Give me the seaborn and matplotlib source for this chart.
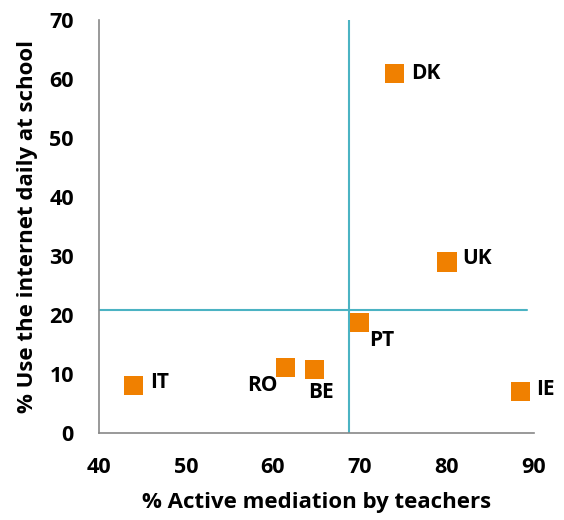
import matplotlib
matplotlib.use("Agg")
import matplotlib.pyplot as plt
import seaborn as sns
import pandas as pd

countries = ["DK", "UK", "PT", "IE", "IT", "RO", "BE"]
active_mediation = [74.0, 80.0, 69.9, 88.4, 44.0, 61.4, 64.8]
daily_school = [61.0, 29.0, 18.8, 7.0, 8.0, 11.1, 10.8]
mean_x = 68.7
mean_y = 20.8
x_ticks = [40, 50, 60, 70, 80, 90]
y_ticks = [0, 10, 20, 30, 40, 50, 60, 70]

# label offsets (pixels) relative to marker centre
label_offsets = {"DK": (16, 0, "left"), "UK": (15, 3, "left"), "PT": (10, -18, "left"),
                 "IE": (16, 2, "left"), "IT": (16, 3, "left"), "RO": (-8, -18, "right"),
                 "BE": (-7, -23, "left")}

df = pd.DataFrame({"country": countries, "x": active_mediation, "y": daily_school})

sns.set_style("white")
plt.rcParams["font.family"] = ["Open Sans", "DejaVu Sans"]
plt.rcParams["font.weight"] = "bold"
plt.rcParams["text.color"] = "black"
plt.rcParams["axes.labelcolor"] = "black"
plt.rcParams["xtick.labelcolor"] = "black"
plt.rcParams["ytick.labelcolor"] = "black"

fig = plt.figure(figsize=(5.64, 5.2), dpi=100)
ax = fig.add_axes([0.1755, 0.1673, 0.7713, 0.794])

teal = "#4BB3C3"
ax.plot([mean_x, mean_x], [0, 70], color=teal, lw=1.5, zorder=1)
ax.plot([40, 89.2], [mean_y, mean_y], color=teal, lw=1.5, zorder=1)

sns.scatterplot(data=df, x="x", y="y", marker="s", s=190, color="#F08000",
                edgecolor="none", ax=ax, zorder=3, legend=False)

for c, xv, yv in zip(countries, active_mediation, daily_school):
    dx, dy, ha = label_offsets[c]
    ax.annotate(c, (xv, yv), xytext=(dx, dy), textcoords="offset pixels",
                ha=ha, va="center", fontsize=15, fontweight="bold", color="black")

ax.set_xlim(40, 90)
ax.set_ylim(0, 70)
ax.set_xticks(x_ticks)
ax.set_yticks(y_ticks)
ax.tick_params(axis="both", labelsize=15.5, width=1.2, color="#888888",
               labelcolor="black", direction="out")
for lab in ax.get_xticklabels() + ax.get_yticklabels():
    lab.set_fontweight("bold")
ax.tick_params(axis="x", length=5, pad=12)
ax.tick_params(axis="y", length=6, pad=12)
for s in ["top", "right"]:
    ax.spines[s].set_visible(False)
for s in ["left", "bottom"]:
    ax.spines[s].set_color("#888888")
    ax.spines[s].set_linewidth(1.2)

ax.set_xlabel("% Active mediation by teachers", fontsize=16, fontweight="bold",
              labelpad=10, color="black")
ax.set_ylabel("% Use the internet daily at school", fontsize=16, fontweight="bold",
              labelpad=8, color="black")

fig.savefig("out.png", dpi=100)
